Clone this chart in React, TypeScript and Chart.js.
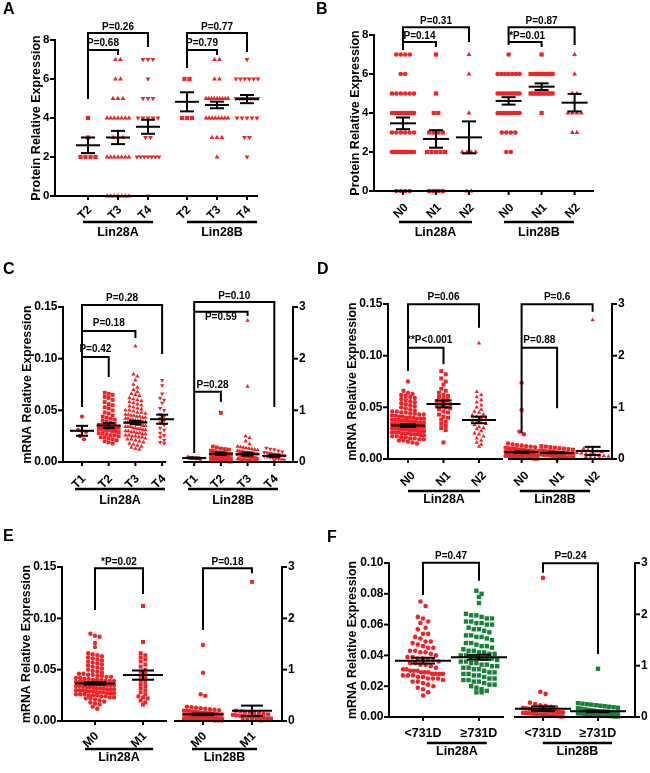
import React, { useEffect, useRef } from "react";
import { Chart, registerables } from "chart.js";

Chart.register(...registerables);

const FONT = '"Liberation Sans", Arial, Helvetica, sans-serif';
const RED = "rgb(238, 36, 40)";
const GREEN = "rgb(24, 128, 56)";

// ---------------- Panel A (protein, T stage) ----------------
const A_CATEGORIES = ["T2", "T3", "T4", "T2", "T3", "T4"];
const A_GROUP_LABELS = ["Lin28A", "Lin28B"];
const A_L28A_T2 = [4, 3, 2, 2, 2, 2];
const A_L28A_T3 = [7, 7, 6, 6, 5, 5, 5, 4, 4, 4, 4, 4, 4, 4, 3, 3, 3, 2, 2, 2, 2, 2, 2, 2, 0, 0, 0, 0, 0, 0, 0];
const A_L28A_T4 = [7, 7, 7, 6, 5, 5, 5, 4, 4, 4, 4, 4, 3, 3, 2, 2, 2, 2, 2, 2, 2, 0];
const A_L28B_T2 = [6, 6, 4, 4, 4];
const A_L28B_T3 = [7, 7, 6, 6, 5, 5, 5, 5, 5, 5, 5, 5, 5, 4, 4, 4, 4, 4, 4, 4, 4, 3, 3, 3, 2];
const A_L28B_T4 = [7, 6, 6, 6, 6, 6, 6, 5, 5, 5, 5, 5, 5, 5, 4, 4, 4, 4, 4, 3, 3, 2];
const A_MEAN = [2.6, 3.0, 3.55, 4.83, 4.67, 4.97];
const A_SEM = [0.4, 0.34, 0.36, 0.49, 0.17, 0.21];
const A_P = ["P=0.26", "P=0.68", "P=0.77", "P=0.79"];

// ---------------- Panel B (protein, N stage) ----------------
const B_CATEGORIES = ["N0", "N1", "N2", "N0", "N1", "N2"];
const B_GROUP_LABELS = ["Lin28A", "Lin28B"];
const B_L28A_N0 = [7, 7, 7, 7, 6, 6, 5, 5, 5, 5, 5, 5, 4, 4, 4, 4, 4, 4, 4, 4, 4, 4, 3, 3, 3, 3, 3, 3, 2, 2, 2, 2, 2, 2, 2, 2, 2, 2, 0, 0, 0, 0];
const B_L28A_N1 = [7, 5, 4, 4, 3, 3, 3, 3, 2, 2, 2, 2, 2, 0, 0, 0, 0];
const B_L28A_N2 = [7, 6, 4, 2, 2, 2, 2, 0, 0];
const B_L28B_N0 = [7, 6, 6, 6, 6, 6, 6, 6, 5, 5, 5, 5, 5, 5, 5, 5, 5, 5, 4, 4, 4, 4, 4, 4, 4, 4, 4, 3, 3, 3, 3, 2, 2];
const B_L28B_N1 = [7, 6, 6, 6, 6, 6, 6, 6, 5, 5, 5, 5, 5, 5, 5, 5, 5, 5, 4];
const B_L28B_N2 = [7, 6, 5, 5, 4, 4, 4, 4, 3, 3];
const B_MEAN = [3.47, 2.67, 2.75, 4.62, 5.35, 4.53];
const B_SEM = [0.3, 0.45, 0.82, 0.19, 0.17, 0.45];
const B_P = ["P=0.31", "P=0.14", "P=0.87", "*P=0.01"];

// ---------------- Panel C (mRNA, T stage) ----------------
const C_CATEGORIES = ["T1", "T2", "T3", "T4", "T1", "T2", "T3", "T4"];
const C_GROUP_LABELS = ["Lin28A", "Lin28B"];
const C_L28A_T1 = [0.044, 0.031, 0.030, 0.029, 0.025, 0.022];
const C_L28A_T2 = [0.067, 0.066, 0.065, 0.063, 0.062, 0.060, 0.058, 0.056, 0.055, 0.053, 0.052, 0.050, 0.048, 0.047, 0.045, 0.044, 0.043, 0.042, 0.041, 0.040, 0.039, 0.038, 0.037, 0.036, 0.036, 0.035, 0.035, 0.034, 0.033, 0.033, 0.032, 0.032, 0.031, 0.031, 0.030, 0.030, 0.029, 0.028, 0.028, 0.027, 0.026, 0.026, 0.025, 0.024, 0.024, 0.023, 0.022, 0.021, 0.020, 0.019, 0.018];
const C_L28A_T3 = [0.112, 0.085, 0.083, 0.079, 0.075, 0.072, 0.070, 0.068, 0.066, 0.065, 0.064, 0.062, 0.061, 0.060, 0.059, 0.058, 0.057, 0.056, 0.055, 0.054, 0.053, 0.052, 0.051, 0.050, 0.050, 0.049, 0.048, 0.048, 0.047, 0.046, 0.046, 0.045, 0.045, 0.044, 0.044, 0.043, 0.043, 0.042, 0.042, 0.041, 0.041, 0.040, 0.040, 0.040, 0.039, 0.039, 0.038, 0.038, 0.038, 0.037, 0.037, 0.036, 0.036, 0.036, 0.035, 0.035, 0.034, 0.034, 0.034, 0.033, 0.033, 0.032, 0.032, 0.031, 0.031, 0.030, 0.030, 0.029, 0.029, 0.028, 0.028, 0.027, 0.027, 0.026, 0.026, 0.025, 0.025, 0.024, 0.024, 0.023, 0.022, 0.022, 0.021, 0.020, 0.019, 0.018, 0.017, 0.016, 0.015, 0.014, 0.013, 0.012];
const C_L28A_T4 = [0.079, 0.074, 0.066, 0.062, 0.060, 0.057, 0.052, 0.050, 0.046, 0.044, 0.042, 0.040, 0.038, 0.036, 0.033, 0.031, 0.028, 0.026, 0.024, 0.021, 0.019, 0.018];
const C_L28B_T1 = [0.09, 0.08, 0.07, 0.06];
const C_L28B_T2 = [0.95, 0.30, 0.28, 0.26, 0.25, 0.24, 0.22, 0.21, 0.20, 0.19, 0.18, 0.18, 0.17, 0.16, 0.16, 0.15, 0.15, 0.14, 0.14, 0.13, 0.13, 0.12, 0.12, 0.11, 0.11, 0.10, 0.10, 0.09, 0.09, 0.08, 0.08, 0.07, 0.07, 0.06, 0.06, 0.05, 0.05, 0.04, 0.04, 0.03, 0.03, 0.02, 0.02, 0.01, 0.01];
const C_L28B_T3 = [2.74, 1.46, 0.50, 0.47, 0.40, 0.35, 0.30, 0.29, 0.28, 0.27, 0.26, 0.25, 0.24, 0.23, 0.22, 0.21, 0.20, 0.20, 0.19, 0.18, 0.18, 0.17, 0.17, 0.16, 0.16, 0.15, 0.15, 0.14, 0.14, 0.13, 0.13, 0.12, 0.12, 0.12, 0.11, 0.11, 0.10, 0.10, 0.10, 0.09, 0.09, 0.09, 0.08, 0.08, 0.08, 0.07, 0.07, 0.07, 0.06, 0.06, 0.06, 0.05, 0.05, 0.05, 0.04, 0.04, 0.04, 0.03, 0.03, 0.03, 0.02, 0.02, 0.02, 0.01, 0.01, 0.01];
const C_L28B_T4 = [0.27, 0.25, 0.24, 0.22, 0.20, 0.19, 0.18, 0.17, 0.16, 0.15, 0.14, 0.13, 0.12, 0.11, 0.10, 0.09, 0.08, 0.07, 0.06, 0.05, 0.04, 0.03];
const C_MEAN = [0.0302, 0.0353, 0.0382, 0.0414, 0.077, 0.16, 0.154, 0.12];
const C_SEM = [0.0048, 0.0024, 0.0016, 0.0044, 0.01, 0.025, 0.03, 0.02];
const C_P = ["P=0.28", "P=0.18", "P=0.42", "P=0.10", "P=0.59", "P=0.28"];

// ---------------- Panel D (mRNA, N stage) ----------------
const D_CATEGORIES = ["N0", "N1", "N2", "N0", "N1", "N2"];
const D_GROUP_LABELS = ["Lin28A", "Lin28B"];
const D_L28A_N0 = [0.075, 0.066, 0.064, 0.063, 0.062, 0.061, 0.060, 0.059, 0.058, 0.057, 0.056, 0.055, 0.054, 0.053, 0.052, 0.051, 0.050, 0.049, 0.048, 0.047, 0.046, 0.046, 0.045, 0.045, 0.044, 0.044, 0.043, 0.043, 0.042, 0.042, 0.041, 0.041, 0.040, 0.040, 0.040, 0.039, 0.039, 0.039, 0.038, 0.038, 0.038, 0.037, 0.037, 0.037, 0.036, 0.036, 0.036, 0.035, 0.035, 0.035, 0.034, 0.034, 0.034, 0.033, 0.033, 0.033, 0.032, 0.032, 0.032, 0.031, 0.031, 0.031, 0.030, 0.030, 0.030, 0.029, 0.029, 0.029, 0.028, 0.028, 0.028, 0.027, 0.027, 0.027, 0.026, 0.026, 0.026, 0.025, 0.025, 0.025, 0.024, 0.024, 0.024, 0.023, 0.023, 0.022, 0.022, 0.021, 0.021, 0.020, 0.020, 0.019, 0.019, 0.018, 0.018, 0.017, 0.016, 0.015];
const D_L28A_N1 = [0.085, 0.082, 0.078, 0.075, 0.072, 0.068, 0.066, 0.064, 0.062, 0.061, 0.060, 0.058, 0.057, 0.056, 0.055, 0.054, 0.053, 0.052, 0.051, 0.050, 0.049, 0.048, 0.046, 0.045, 0.043, 0.041, 0.040, 0.038, 0.036, 0.034, 0.032, 0.030, 0.028, 0.016];
const D_L28A_N2 = [0.112, 0.065, 0.062, 0.060, 0.057, 0.055, 0.052, 0.050, 0.048, 0.046, 0.045, 0.043, 0.042, 0.041, 0.040, 0.039, 0.037, 0.036, 0.035, 0.034, 0.033, 0.031, 0.030, 0.029, 0.027, 0.025, 0.024, 0.022, 0.020, 0.018, 0.016, 0.014, 0.012];
const D_L28B_N0 = [1.47, 0.95, 0.53, 0.48, 0.30, 0.28, 0.27, 0.26, 0.25, 0.24, 0.23, 0.22, 0.21, 0.20, 0.20, 0.19, 0.18, 0.18, 0.17, 0.16, 0.16, 0.15, 0.15, 0.14, 0.14, 0.13, 0.13, 0.12, 0.12, 0.11, 0.11, 0.10, 0.10, 0.10, 0.09, 0.09, 0.09, 0.08, 0.08, 0.08, 0.07, 0.07, 0.07, 0.06, 0.06, 0.06, 0.05, 0.05, 0.05, 0.04, 0.04, 0.04, 0.03, 0.03, 0.03, 0.02, 0.02, 0.02, 0.01, 0.01, 0.01];
const D_L28B_N1 = [0.25, 0.24, 0.23, 0.22, 0.21, 0.20, 0.19, 0.18, 0.17, 0.16, 0.15, 0.15, 0.14, 0.13, 0.12, 0.12, 0.11, 0.10, 0.10, 0.09, 0.08, 0.08, 0.07, 0.06, 0.06, 0.05, 0.04, 0.04, 0.03, 0.02, 0.02, 0.01];
const D_L28B_N2 = [2.69, 0.20, 0.18, 0.16, 0.15, 0.14, 0.12, 0.11, 0.10, 0.09, 0.08, 0.07, 0.06, 0.05, 0.04, 0.03, 0.02, 0.01];
const D_MEAN = [0.0323, 0.0533, 0.0378, 0.13, 0.123, 0.155];
const D_SEM = [0.0012, 0.0034, 0.0032, 0.015, 0.012, 0.08];
const D_P = ["P=0.06", "**P<0.001", "P=0.6", "P=0.88"];

// ---------------- Panel E (mRNA, M stage) ----------------
const E_CATEGORIES = ["M0", "M1", "M0", "M1"];
const E_GROUP_LABELS = ["Lin28A", "Lin28B"];
const E_L28A_M0 = [0.085, 0.083, 0.082, 0.076, 0.072, 0.066, 0.065, 0.064, 0.063, 0.062, 0.061, 0.060, 0.059, 0.058, 0.057, 0.056, 0.055, 0.054, 0.053, 0.052, 0.051, 0.050, 0.049, 0.048, 0.047, 0.046, 0.046, 0.045, 0.045, 0.044, 0.044, 0.043, 0.043, 0.042, 0.042, 0.041, 0.041, 0.040, 0.040, 0.040, 0.039, 0.039, 0.039, 0.038, 0.038, 0.038, 0.037, 0.037, 0.037, 0.036, 0.036, 0.036, 0.035, 0.035, 0.035, 0.034, 0.034, 0.034, 0.033, 0.033, 0.033, 0.032, 0.032, 0.032, 0.031, 0.031, 0.031, 0.030, 0.030, 0.030, 0.029, 0.029, 0.029, 0.028, 0.028, 0.028, 0.027, 0.027, 0.027, 0.026, 0.026, 0.026, 0.025, 0.025, 0.025, 0.024, 0.024, 0.023, 0.023, 0.022, 0.022, 0.021, 0.020, 0.019, 0.018, 0.017, 0.016, 0.014, 0.012];
const E_L28A_M1 = [0.112, 0.077, 0.066, 0.064, 0.062, 0.060, 0.058, 0.055, 0.053, 0.050, 0.048, 0.046, 0.044, 0.042, 0.040, 0.038, 0.036, 0.034, 0.032, 0.030, 0.028, 0.026, 0.024, 0.023, 0.022, 0.020, 0.018, 0.016];
const E_L28B_M0 = [1.48, 0.94, 0.52, 0.49, 0.28, 0.27, 0.26, 0.25, 0.24, 0.23, 0.22, 0.21, 0.20, 0.20, 0.19, 0.18, 0.18, 0.17, 0.16, 0.16, 0.15, 0.15, 0.14, 0.14, 0.13, 0.13, 0.12, 0.12, 0.11, 0.11, 0.10, 0.10, 0.10, 0.09, 0.09, 0.09, 0.08, 0.08, 0.08, 0.07, 0.07, 0.07, 0.06, 0.06, 0.06, 0.05, 0.05, 0.05, 0.04, 0.04, 0.04, 0.03, 0.03, 0.03, 0.02, 0.02, 0.02, 0.01, 0.01, 0.01];
const E_L28B_M1 = [2.71, 0.20, 0.19, 0.18, 0.17, 0.16, 0.15, 0.14, 0.13, 0.12, 0.11, 0.10, 0.10, 0.09, 0.08, 0.08, 0.07, 0.06, 0.05, 0.05, 0.04, 0.03, 0.03, 0.02, 0.01];
const E_MEAN = [0.0366, 0.0447, 0.13, 0.2];
const E_SEM = [0.0012, 0.0045, 0.015, 0.1];
const E_P = ["*P=0.02", "P=0.18"];

// ---------------- Panel F (mRNA, survival) ----------------
const F_CATEGORIES = ["<731D", "≥731D", "<731D", "≥731D"];
const F_GROUP_LABELS = ["Lin28A", "Lin28B"];
const F_L28A_SHORT = [0.075, 0.072, 0.065, 0.064, 0.062, 0.061, 0.058, 0.057, 0.054, 0.054, 0.052, 0.051, 0.049, 0.049, 0.048, 0.047, 0.046, 0.045, 0.045, 0.043, 0.043, 0.042, 0.042, 0.041, 0.040, 0.039, 0.039, 0.038, 0.038, 0.037, 0.037, 0.036, 0.035, 0.035, 0.034, 0.034, 0.033, 0.032, 0.031, 0.031, 0.030, 0.030, 0.030, 0.029, 0.029, 0.029, 0.028, 0.028, 0.028, 0.028, 0.027, 0.027, 0.027, 0.026, 0.026, 0.025, 0.025, 0.025, 0.024, 0.023, 0.023, 0.022, 0.021, 0.020, 0.019, 0.018, 0.016, 0.014];
const F_L28A_LONG = [0.082, 0.080, 0.078, 0.074, 0.067, 0.066, 0.066, 0.065, 0.064, 0.064, 0.062, 0.062, 0.061, 0.061, 0.060, 0.060, 0.058, 0.057, 0.057, 0.056, 0.055, 0.053, 0.053, 0.052, 0.052, 0.051, 0.050, 0.048, 0.048, 0.047, 0.046, 0.046, 0.045, 0.044, 0.043, 0.043, 0.042, 0.042, 0.041, 0.041, 0.040, 0.040, 0.039, 0.039, 0.038, 0.038, 0.038, 0.037, 0.036, 0.036, 0.035, 0.035, 0.034, 0.034, 0.033, 0.033, 0.032, 0.032, 0.031, 0.031, 0.030, 0.029, 0.029, 0.028, 0.028, 0.027, 0.027, 0.026, 0.025, 0.025, 0.024, 0.024, 0.023, 0.023, 0.022, 0.021, 0.021, 0.020, 0.019, 0.018, 0.017, 0.016, 0.016];
const F_L28B_SHORT = [2.71, 0.49, 0.45, 0.28, 0.25, 0.23, 0.22, 0.20, 0.19, 0.18, 0.17, 0.16, 0.15, 0.14, 0.14, 0.13, 0.12, 0.12, 0.11, 0.10, 0.10, 0.09, 0.09, 0.08, 0.08, 0.07, 0.07, 0.06, 0.06, 0.05, 0.05, 0.04, 0.04, 0.03, 0.03, 0.02, 0.02, 0.01, 0.01];
const F_L28B_LONG = [0.94, 0.27, 0.26, 0.25, 0.24, 0.23, 0.22, 0.21, 0.20, 0.19, 0.18, 0.17, 0.16, 0.15, 0.14, 0.13, 0.12, 0.11, 0.10, 0.10, 0.09, 0.09, 0.08, 0.08, 0.07, 0.07, 0.06, 0.06, 0.05, 0.05, 0.04, 0.04, 0.03, 0.03, 0.02, 0.02, 0.01, 0.01];
const F_MEAN = [0.0366, 0.0388, 0.16, 0.11];
const F_SEM = [0.0019, 0.0016, 0.045, 0.015];
const F_P = ["P=0.47", "P=0.24"];

// ---------------- types & helpers ----------------
type Marker = "circle" | "rect" | "triangle" | "triangleDown";
interface Group { x: number; values: number[]; marker: Marker; color: string; axis: "y" | "y2"; mean: number; sem: number; r: number; }
interface Bracket { a: number; b: number; top: number; legA: number; legB: number; text: string; ty: number; dx?: number; }
interface Panel {
  letter: string; letterX: number; letterY: number;
  box: { x: number; y: number; w: number; h: number };
  area: { l: number; r: number; t: number; b: number };
  xMin: number; xMax: number; axisBreak?: [number, number];
  yMax: number; yStep: number; yDec: number; y2: boolean; y2Max?: number; tickSize: number;
  title: string; titleX: number; titleSize: number;
  cats: string[]; catX: number[]; rotate: boolean; catDx: number; catDy: number; catSize: number;
  groupLabels: string[]; underlines: [number, number][]; underDy: number; labelDy: number;
  groups: Group[]; brackets: Bracket[];
  meanHalf: number; semHalf: number; swarmHalf: number; spacing: number; binH: number;
}

function mk(xs: number[], vals: number[][], markers: Marker[], colors: string[], axes: ("y" | "y2")[], mean: number[], sem: number[], radii: number[]): Group[] {
  return xs.map((x, i) => ({ x, values: vals[i], marker: markers[i], color: colors[i], axis: axes[i], mean: mean[i], sem: sem[i], r: radii[i] }));
}

const PANELS: Panel[] = [
  {
    letter: "A", letterX: 3, letterY: 2,
    box: { x: 0, y: 0, w: 312, h: 255 }, area: { l: 55, r: 258, t: 40, b: 196 },
    xMin: -0.1, xMax: 6.667, yMax: 8, yStep: 2, yDec: 0, y2: false, tickSize: 11.5,
    title: "Protein Relative Expression", titleX: 37, titleSize: 12.5,
    cats: A_CATEGORIES, catX: [1, 2, 3, 4.3, 5.3, 6.3], rotate: true, catDx: -3, catDy: 17, catSize: 12,
    groupLabels: A_GROUP_LABELS, underlines: [[0.833, 3.167], [4.3, 6.633]], underDy: 26, labelDy: 37,
    groups: mk([1, 2, 3, 4.3, 5.3, 6.3], [A_L28A_T2, A_L28A_T3, A_L28A_T4, A_L28B_T2, A_L28B_T3, A_L28B_T4],
      ["rect", "triangle", "triangleDown", "rect", "triangle", "triangleDown"], [RED, RED, RED, RED, RED, RED],
      ["y", "y", "y", "y", "y", "y"], A_MEAN, A_SEM, [3, 2.8, 2.8, 3, 2.8, 2.8]),
    brackets: [
      { a: 0, b: 2, top: 8.36, legA: 4.97, legB: 7.64, text: A_P[0], ty: 8.67 },
      { a: 0, b: 1, top: 7.49, legA: 7.49, legB: 7.23, text: A_P[1], ty: 7.85 },
      { a: 3, b: 5, top: 8.36, legA: 6.56, legB: 7.38, text: A_P[2], ty: 8.67 },
      { a: 3, b: 4, top: 7.49, legA: 7.49, legB: 7.23, text: A_P[3], ty: 7.85 },
    ],
    meanHalf: 12, semHalf: 7, swarmHalf: 11, spacing: 5, binH: 3,
  },
  {
    letter: "B", letterX: 316, letterY: 2,
    box: { x: 312, y: 0, w: 338, h: 255 }, area: { l: 374, r: 594, t: 35, b: 191 },
    xMin: 0.121, xMax: 6.788, yMax: 8, yStep: 2, yDec: 0, y2: false, tickSize: 11.5,
    title: "Protein Relative Expression", titleX: 356, titleSize: 12.5,
    cats: B_CATEGORIES, catX: [1, 2, 3, 4.2, 5.2, 6.2], rotate: true, catDx: -2, catDy: 20, catSize: 12,
    groupLabels: B_GROUP_LABELS, underlines: [[0.879, 3.09], [4.06, 6.18]], underDy: 31, labelDy: 42,
    groups: mk([1, 2, 3, 4.2, 5.2, 6.2], [B_L28A_N0, B_L28A_N1, B_L28A_N2, B_L28B_N0, B_L28B_N1, B_L28B_N2],
      ["circle", "rect", "triangle", "circle", "rect", "triangle"], [RED, RED, RED, RED, RED, RED],
      ["y", "y", "y", "y", "y", "y"], B_MEAN, B_SEM, [2.3, 3, 2.8, 2.3, 3, 2.8]),
    brackets: [
      { a: 0, b: 2, top: 8.4, legA: 7.23, legB: 7.64, text: B_P[0], ty: 8.72 },
      { a: 0, b: 1, top: 7.64, legA: 7.64, legB: 7.38, text: B_P[1], ty: 7.95 },
      { a: 3, b: 5, top: 8.4, legA: 7.49, legB: 7.49, text: B_P[2], ty: 8.72 },
      { a: 3, b: 4, top: 7.64, legA: 7.64, legB: 7.38, text: B_P[3], ty: 7.95, dx: 2 },
    ],
    meanHalf: 13, semHalf: 7, swarmHalf: 11, spacing: 4.5, binH: 3,
  },
  {
    letter: "C", letterX: 3, letterY: 262,
    box: { x: 0, y: 255, w: 312, h: 255 }, area: { l: 63, r: 293, t: 307, b: 462 },
    xMin: 0.288, xMax: 8.9, axisBreak: [4.15, 4.79], yMax: 0.15, yStep: 0.05, yDec: 2, y2: true, y2Max: 3, tickSize: 12,
    title: "mRNA Relative Expression", titleX: 28, titleSize: 12.3,
    cats: C_CATEGORIES, catX: [1, 2, 3, 4, 5.2, 6.2, 7.2, 8.2], rotate: true, catDx: -3, catDy: 20, catSize: 12,
    groupLabels: C_GROUP_LABELS, underlines: [[0.738, 4.11], [4.97, 8.34]], underDy: 27, labelDy: 39,
    groups: mk([1, 2, 3, 4, 5.2, 6.2, 7.2, 8.2],
      [C_L28A_T1, C_L28A_T2, C_L28A_T3, C_L28A_T4, C_L28B_T1, C_L28B_T2, C_L28B_T3, C_L28B_T4],
      ["circle", "rect", "triangle", "triangleDown", "circle", "rect", "triangle", "triangleDown"],
      [RED, RED, RED, RED, RED, RED, RED, RED], ["y", "y", "y", "y", "y2", "y2", "y2", "y2"],
      C_MEAN, C_SEM, [2.1, 2.7, 2.5, 2.5, 2.1, 2.7, 2.5, 2.5]),
    brackets: [
      { a: 0, b: 3, top: 0.152, legA: 0.0532, legB: 0.1045, text: C_P[0], ty: 0.1587 },
      { a: 0, b: 2, top: 0.1268, legA: 0.1268, legB: 0.12, text: C_P[1], ty: 0.1345 },
      { a: 0, b: 1, top: 0.1016, legA: 0.1016, legB: 0.0823, text: C_P[2], ty: 0.1094 },
      { a: 4, b: 7, top: 0.1549, legA: 0.0087, legB: 0.0532, text: C_P[3], ty: 0.1607 },
      { a: 4, b: 6, top: 0.1455, legA: 0.1455, legB: 0.1413, text: C_P[4], ty: 0.1397 },
      { a: 4, b: 5, top: 0.068, legA: 0.068, legB: 0.0584, text: C_P[5], ty: 0.0745, dx: 5 },
    ],
    meanHalf: 12, semHalf: 6, swarmHalf: 10, spacing: 4, binH: 4,
  },
  {
    letter: "D", letterX: 317, letterY: 262,
    box: { x: 312, y: 255, w: 338, h: 255 }, area: { l: 388, r: 612, t: 304, b: 459 },
    xMin: 0.437, xMax: 6.746, axisBreak: [3.676, 3.817], yMax: 0.15, yStep: 0.05, yDec: 2, y2: true, y2Max: 3, tickSize: 12,
    title: "mRNA Relative Expression", titleX: 353, titleSize: 12.3,
    cats: D_CATEGORIES, catX: [1, 2, 3, 4.2, 5.2, 6.2], rotate: true, catDx: 0, catDy: 20, catSize: 12,
    groupLabels: D_GROUP_LABELS, underlines: [[1.0, 3.03], [4.15, 6.13]], underDy: 32, labelDy: 41,
    groups: mk([1, 2, 3, 4.2, 5.2, 6.2], [D_L28A_N0, D_L28A_N1, D_L28A_N2, D_L28B_N0, D_L28B_N1, D_L28B_N2],
      ["circle", "rect", "triangle", "circle", "rect", "triangle"], [RED, RED, RED, RED, RED, RED],
      ["y", "y", "y", "y2", "y2", "y2"], D_MEAN, D_SEM, [2.2, 2.8, 2.5, 2.2, 2.8, 2.5]),
    brackets: [
      { a: 0, b: 2, top: 0.1498, legA: 0.0852, legB: 0.127, text: D_P[0], ty: 0.1561 },
      { a: 0, b: 1, top: 0.1077, legA: 0.1077, legB: 0.0916, text: D_P[1], ty: 0.1152, dx: 4 },
      { a: 3, b: 5, top: 0.1498, legA: 0.0249, legB: 0.1426, text: D_P[2], ty: 0.1561 },
      { a: 3, b: 4, top: 0.1077, legA: 0.1077, legB: 0.049, text: D_P[3], ty: 0.1152 },
    ],
    meanHalf: 17, semHalf: 8, swarmHalf: 16, spacing: 4.5, binH: 4,
  },
  {
    letter: "E", letterX: 3, letterY: 529,
    box: { x: 0, y: 510, w: 312, h: 263 }, area: { l: 62, r: 282, t: 567, b: 721 },
    xMin: 0.3125, xMax: 4.896, axisBreak: [2.5, 2.646], yMax: 0.15, yStep: 0.05, yDec: 2, y2: true, y2Max: 3, tickSize: 12,
    title: "mRNA Relative Expression", titleX: 27, titleSize: 12.3,
    cats: E_CATEGORIES, catX: [1, 2, 3.25, 4.27], rotate: true, catDx: -4, catDy: 19, catSize: 12,
    groupLabels: E_GROUP_LABELS, underlines: [[0.79, 2.21], [3.02, 4.375]], underDy: 28, labelDy: 37,
    groups: mk([1, 2, 3.25, 4.27], [E_L28A_M0, E_L28A_M1, E_L28B_M0, E_L28B_M1],
      ["circle", "rect", "circle", "rect"], [RED, RED, RED, RED], ["y", "y", "y2", "y2"],
      E_MEAN, E_SEM, [2.2, 2.8, 2.2, 2.8]),
    brackets: [
      { a: 0, b: 1, top: 0.1487, legA: 0.108, legB: 0.1237, text: E_P[0], ty: 0.1551 },
      { a: 2, b: 3, top: 0.1487, legA: 0.0886, legB: 0.1438, text: E_P[1], ty: 0.1551 },
    ],
    meanHalf: 20, semHalf: 11, swarmHalf: 19, spacing: 4.6, binH: 4,
  },
  {
    letter: "F", letterX: 327, letterY: 530,
    box: { x: 312, y: 510, w: 338, h: 263 }, area: { l: 389, r: 635, t: 563, b: 717 },
    xMin: 0.393, xMax: 4.786, axisBreak: [2.446, 2.625], yMax: 0.1, yStep: 0.02, yDec: 2, y2: true, y2Max: 3, tickSize: 12,
    title: "mRNA Relative Expression", titleX: 353, titleSize: 12.3,
    cats: F_CATEGORIES, catX: [1, 2, 3.143, 4.125], rotate: false, catDx: 0, catDy: 17, catSize: 12.5,
    groupLabels: F_GROUP_LABELS, underlines: [[1.07, 2.14], [3.14, 4.375]], underDy: 26, labelDy: 35,
    groups: mk([1, 2, 3.143, 4.125], [F_L28A_SHORT, F_L28A_LONG, F_L28B_SHORT, F_L28B_LONG],
      ["circle", "rect", "circle", "rect"], [RED, GREEN, RED, GREEN], ["y", "y", "y2", "y2"],
      F_MEAN, F_SEM, [2.3, 3.1, 2.3, 3.1]),
    brackets: [
      { a: 0, b: 1, top: 0.1002, legA: 0.0792, legB: 0.0885, text: F_P[0], ty: 0.1041 },
      { a: 2, b: 3, top: 0.0998, legA: 0.0937, legB: 0.0409, text: F_P[1], ty: 0.1041 },
    ],
    meanHalf: 28, semHalf: 12, swarmHalf: 20, spacing: 5.2, binH: 5,
  },
];

function yScale(max: number, step: number, pos: "left" | "right", w: number) {
  return {
    type: "linear", position: pos, min: 0, max,
    ticks: { stepSize: step, display: false },
    grid: { display: false },
    border: { display: true, color: "#000", width: 2 },
    afterFit: (s: any) => { s.width = w; },
  };
}

function decoPlugin(p: Panel) {
  const ox = p.box.x, oy = p.box.y;
  return {
    id: "deco",
    afterDatasetsDraw(chart: any) {
      const ctx = chart.ctx, xs = chart.scales.x;
      ctx.save();
      ctx.strokeStyle = "#000";
      ctx.lineWidth = 2;
      ctx.lineCap = "butt";
      const seg = (x1: number, y1: number, x2: number, y2: number) => { ctx.beginPath(); ctx.moveTo(x1, y1); ctx.lineTo(x2, y2); ctx.stroke(); };
      p.groups.forEach((g) => {
        const ys = chart.scales[g.axis];
        const cx = xs.getPixelForValue(g.x);
        const pm = ys.getPixelForValue(g.mean);
        const pt = ys.getPixelForValue(g.mean + g.sem);
        const pb = ys.getPixelForValue(Math.max(0, g.mean - g.sem));
        seg(cx - p.meanHalf, pm, cx + p.meanHalf, pm);
        seg(cx, pt, cx, pb);
        seg(cx - p.semHalf, pt, cx + p.semHalf, pt);
        seg(cx - p.semHalf, pb, cx + p.semHalf, pb);
      });
      ctx.restore();
    },
    afterDraw(chart: any) {
      const ctx = chart.ctx, xs = chart.scales.x, ys = chart.scales.y;
      const ca = chart.chartArea;
      const bottom = ca.bottom;
      ctx.save();
      ctx.strokeStyle = "#000";
      ctx.fillStyle = "#000";
      ctx.lineWidth = 2;
      const seg = (x1: number, y1: number, x2: number, y2: number) => { ctx.beginPath(); ctx.moveTo(x1, y1); ctx.lineTo(x2, y2); ctx.stroke(); };
      // y-axis title
      ctx.save();
      ctx.translate(p.titleX - ox, (ca.top + ca.bottom) / 2);
      ctx.rotate(-Math.PI / 2);
      ctx.font = `bold ${p.titleSize}px ${FONT}`;
      ctx.textAlign = "center";
      ctx.textBaseline = "middle";
      ctx.fillText(p.title, 0, 0);
      ctx.restore();
      // y-axis ticks and labels (from the library's scales)
      ctx.font = `bold ${p.tickSize}px ${FONT}`;
      ctx.textBaseline = "middle";
      ys.ticks.forEach((t: any) => {
        const py = ys.getPixelForValue(t.value);
        seg(ca.left - 5, py, ca.left, py);
        ctx.textAlign = "right";
        ctx.fillText(Number(t.value).toFixed(p.yDec), ca.left - 5.5, py);
      });
      const y2 = chart.scales.y2;
      if (y2) {
        y2.ticks.forEach((t: any) => {
          const py = y2.getPixelForValue(t.value);
          seg(ca.right, py, ca.right + 5, py);
          ctx.textAlign = "left";
          ctx.fillText(Number(t.value).toFixed(0), ca.right + 6, py);
        });
      }
      // x axis line(s)
      if (p.axisBreak) {
        seg(ca.left - 1, bottom, xs.getPixelForValue(p.axisBreak[0]), bottom);
        seg(xs.getPixelForValue(p.axisBreak[1]), bottom, ca.right + 1, bottom);
      } else {
        seg(ca.left - 1, bottom, ca.right, bottom);
      }
      // category ticks + labels
      ctx.font = `bold ${p.catSize}px ${FONT}`;
      p.catX.forEach((cxv, i) => {
        const cx = xs.getPixelForValue(cxv);
        seg(cx, bottom, cx, bottom + 4);
        ctx.save();
        ctx.translate(cx + p.catDx, bottom + p.catDy);
        if (p.rotate) ctx.rotate(-Math.PI / 4);
        ctx.textAlign = "center";
        ctx.textBaseline = "middle";
        ctx.fillText(p.cats[i], 0, 0);
        ctx.restore();
      });
      // group underlines & labels
      ctx.lineWidth = 2.5;
      p.underlines.forEach((u, i) => {
        const x1 = xs.getPixelForValue(u[0]), x2 = xs.getPixelForValue(u[1]);
        seg(x1, bottom + p.underDy, x2, bottom + p.underDy);
        ctx.font = `bold 12.5px ${FONT}`;
        ctx.textAlign = "center";
        ctx.textBaseline = "middle";
        ctx.fillText(p.groupLabels[i], (x1 + x2) / 2, bottom + p.labelDy);
      });
      // significance brackets
      ctx.lineWidth = 2;
      ctx.lineJoin = "miter";
      p.brackets.forEach((b) => {
        const xa = xs.getPixelForValue(p.catX[b.a]);
        const xb = xs.getPixelForValue(p.catX[b.b]);
        const yt = ys.getPixelForValue(b.top);
        ctx.beginPath();
        ctx.moveTo(xa, ys.getPixelForValue(b.legA));
        ctx.lineTo(xa, yt);
        ctx.lineTo(xb, yt);
        ctx.lineTo(xb, ys.getPixelForValue(b.legB));
        ctx.stroke();
        ctx.font = `bold 10px ${FONT}`;
        ctx.textAlign = "center";
        ctx.textBaseline = "middle";
        ctx.fillText(b.text, (xa + xb) / 2 + (b.dx || 0), ys.getPixelForValue(b.ty));
      });
      // panel letter
      ctx.font = `bold 16px ${FONT}`;
      ctx.textAlign = "left";
      ctx.textBaseline = "top";
      ctx.fillText(p.letter, p.letterX - ox, p.letterY - oy);
      ctx.restore();
    },
  };
}

function layoutSwarm(chart: any, p: Panel) {
  const xs = chart.scales.x;
  p.groups.forEach((g, di) => {
    const ys = chart.scales[g.axis];
    const cx = xs.getPixelForValue(g.x);
    const items = g.values.map((v) => ({ v, py: ys.getPixelForValue(v) })).sort((a, b) => a.py - b.py);
    const rows: { v: number; py: number }[][] = [];
    let cur: { v: number; py: number }[] = [];
    let start = -Infinity;
    items.forEach((it) => {
      if (it.py - start > p.binH) {
        if (cur.length) rows.push(cur);
        cur = [it];
        start = it.py;
      } else cur.push(it);
    });
    if (cur.length) rows.push(cur);
    const data: { x: number; y: number }[] = [];
    rows.forEach((row) => {
      const n = row.length;
      const sp = n > 1 ? Math.min(p.spacing, (2 * p.swarmHalf) / (n - 1)) : 0;
      row.forEach((it, i) => {
        const px = cx + (i - (n - 1) / 2) * sp;
        data.push({ x: xs.getValueForPixel(px), y: it.v });
      });
    });
    chart.data.datasets[di].data = data;
  });
  chart.update("none");
}

function PanelChart({ p }: { p: Panel }) {
  const ref = useRef<HTMLCanvasElement>(null);
  useEffect(() => {
    const canvas = ref.current;
    if (!canvas) return;
    const leftW = p.area.l - p.box.x;
    const rightW = p.y2 ? p.box.x + p.box.w - p.area.r : 0;
    const datasets = p.groups.map((g) => ({
      type: "scatter" as const,
      data: g.values.map((v) => ({ x: g.x, y: v })),
      yAxisID: g.axis,
      pointStyle: g.marker === "triangleDown" ? "triangle" : g.marker,
      pointRotation: g.marker === "triangleDown" ? 180 : 0,
      pointRadius: g.r,
      pointBackgroundColor: g.color,
      pointBorderColor: g.color,
      pointBorderWidth: 0,
      clip: false as const,
    }));
    const scales: any = {
      x: { type: "linear", display: false, min: p.xMin, max: p.xMax },
      y: yScale(p.yMax, p.yStep, "left", leftW),
    };
    if (p.y2) scales.y2 = yScale(p.y2Max || 3, 1, "right", rightW);
    const chart = new Chart(canvas, {
      type: "scatter",
      data: { datasets },
      options: {
        responsive: false,
        animation: false,
        devicePixelRatio: 1,
        events: [],
        layout: {
          autoPadding: false,
          padding: {
            left: 0,
            right: p.box.x + p.box.w - p.area.r - rightW,
            top: p.area.t - p.box.y,
            bottom: p.box.y + p.box.h - p.area.b,
          },
        },
        plugins: { legend: { display: false }, tooltip: { enabled: false } },
        scales,
      } as any,
      plugins: [decoPlugin(p)],
    });
    layoutSwarm(chart, p);
    return () => chart.destroy();
  }, [p]);
  return (
    <canvas
      ref={ref}
      width={p.box.w}
      height={p.box.h}
      style={{ position: "absolute", left: p.box.x, top: p.box.y, width: p.box.w, height: p.box.h }}
    />
  );
}

export default function App() {
  return (
    <div style={{ position: "absolute", left: 0, top: 0, width: 650, height: 773, background: "#fff", overflow: "hidden" }}>
      {PANELS.map((p) => (
        <PanelChart key={p.letter} p={p} />
      ))}
    </div>
  );
}
